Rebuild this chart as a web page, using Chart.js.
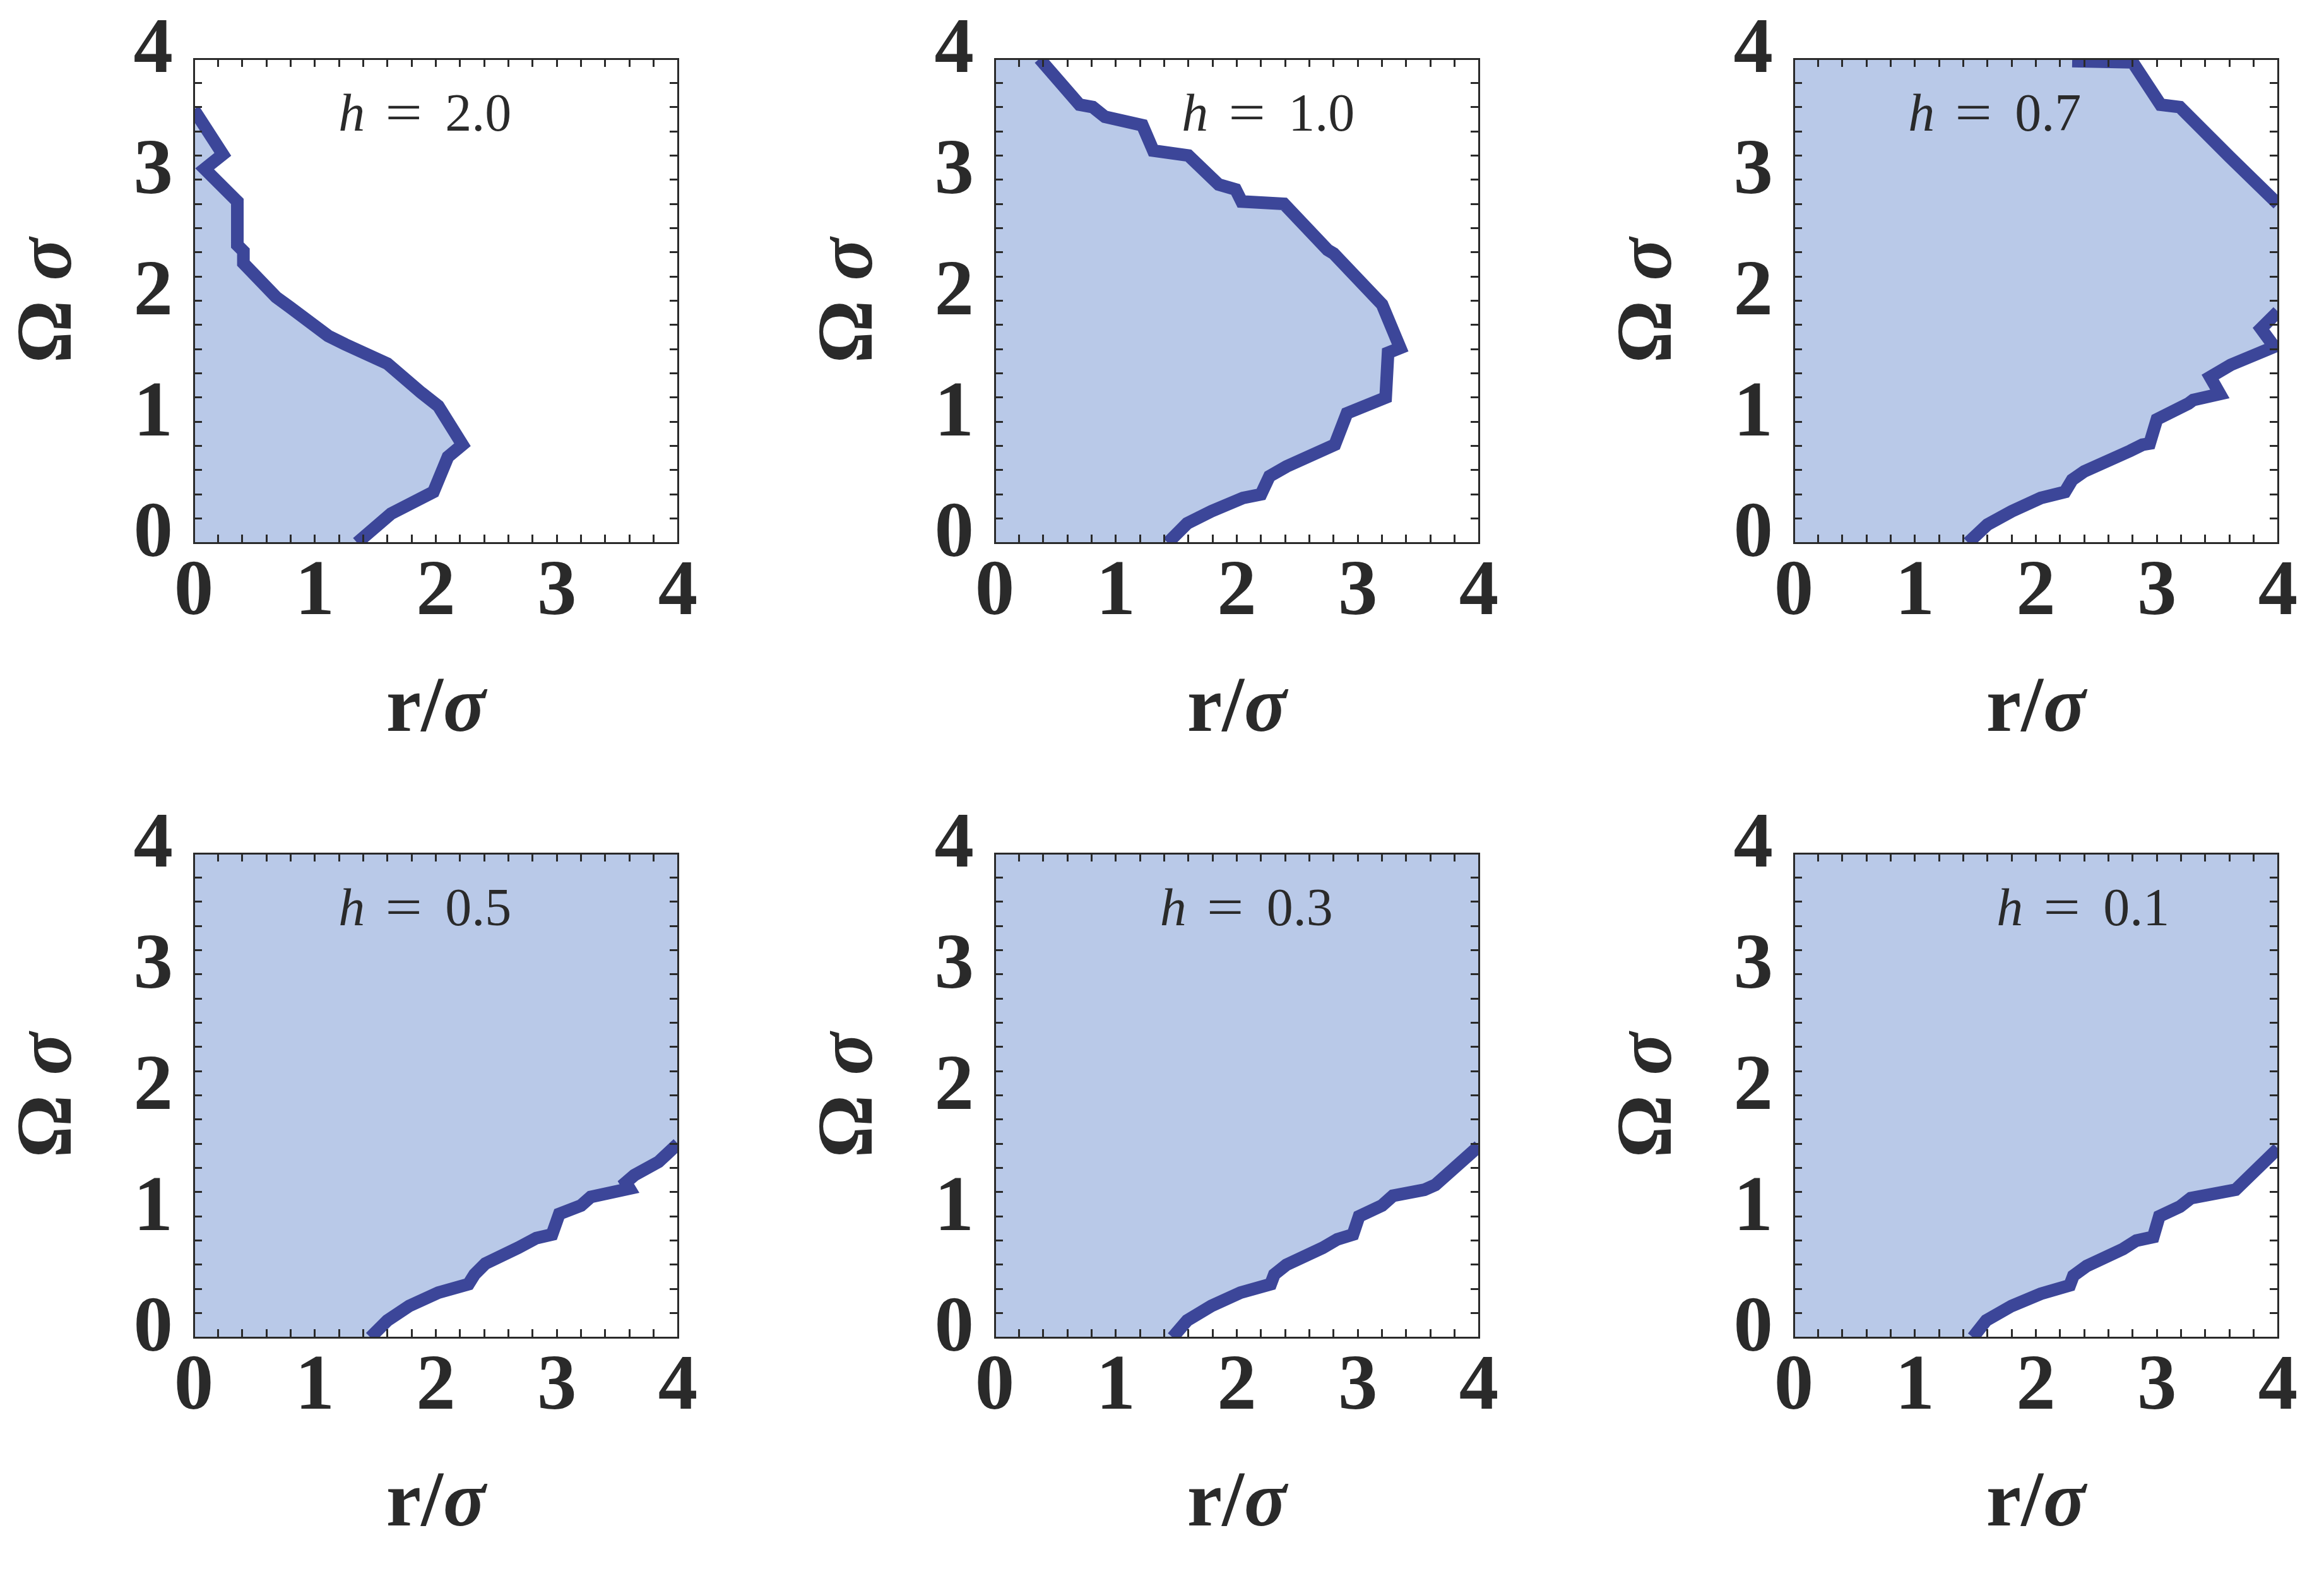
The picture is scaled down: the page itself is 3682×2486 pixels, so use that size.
<!DOCTYPE html>
<html lang="en">
<head>
    <meta charset="UTF-8">
    <title>Omega sigma versus r/sigma for several h</title>
    <script src="https://cdn.jsdelivr.net/npm/chart.js@4"></script>
    <style>
        html, body {
            margin: 0;
            padding: 0;
            background: #fff;
        }
        body {
            width: 3682px;
            height: 2486px;
            position: relative;
            overflow: hidden;
        }
        canvas {
            position: absolute;
        }
    </style>
</head>
<body>
<script>
    // axis ticks (labels only on the integers, minor marks every 0.2)
    const tickLabels = [0, 1, 2, 3, 4];
    const axisMin = tickLabels[0];
    const axisMax = tickLabels[tickLabels.length - 1];
    const minorStep = 0.2;

    const hLabels = ['2.0', '1.0', '0.7', '0.5', '0.3', '0.1'];

    // boundary curves: r/sigma and Omega*sigma
    const r20 = [0.00, 0.24, 0.09, 0.36, 0.36, 0.41, 0.41, 0.68, 0.79, 1.11, 1.25, 1.60, 1.88, 2.02, 2.22, 2.10, 1.98, 1.63, 1.35];
    const w20 = [3.58, 3.21, 3.09, 2.82, 2.46, 2.41, 2.31, 2.03, 1.95, 1.71, 1.64, 1.48, 1.24, 1.13, 0.81, 0.71, 0.42, 0.24, 0.00];

    const r10 = [0.37, 0.70, 0.81, 0.91, 1.22, 1.31, 1.60, 1.85, 1.99, 2.04, 2.39, 2.75, 2.80, 3.20, 3.35, 3.25, 3.23, 2.91, 2.81, 2.41, 2.27, 2.20, 2.05, 1.79, 1.59, 1.43];
    const w10 = [4.00, 3.62, 3.60, 3.52, 3.45, 3.24, 3.20, 2.96, 2.92, 2.82, 2.80, 2.42, 2.39, 1.97, 1.61, 1.57, 1.20, 1.07, 0.81, 0.63, 0.55, 0.40, 0.37, 0.26, 0.16, 0.00];

    const r07u = [2.30, 2.80, 3.03, 3.19, 3.60, 4.00];
    const w07u = [3.98, 3.97, 3.62, 3.60, 3.19, 2.80];
    const r07l = [1.44, 1.60, 1.80, 2.04, 2.24, 2.30, 2.40, 2.78, 2.88, 2.94, 3.00, 3.26, 3.30, 3.52, 3.44, 3.61, 3.97, 3.86, 4.00];
    const w07l = [0.00, 0.15, 0.26, 0.37, 0.42, 0.52, 0.59, 0.76, 0.81, 0.82, 1.02, 1.15, 1.18, 1.23, 1.37, 1.47, 1.62, 1.77, 1.91];

    const r05 = [1.46, 1.60, 1.78, 2.02, 2.27, 2.32, 2.41, 2.68, 2.83, 2.96, 3.02, 3.20, 3.28, 3.60, 3.57, 3.64, 3.84, 4.00];
    const w05 = [0.00, 0.14, 0.26, 0.37, 0.44, 0.52, 0.61, 0.74, 0.82, 0.85, 1.02, 1.09, 1.16, 1.23, 1.28, 1.34, 1.45, 1.60];

    const r03 = [1.47, 1.59, 1.79, 2.03, 2.28, 2.31, 2.41, 2.71, 2.83, 2.96, 3.01, 3.20, 3.29, 3.55, 3.64, 4.00];
    const w03 = [0.00, 0.14, 0.26, 0.37, 0.44, 0.52, 0.60, 0.74, 0.81, 0.85, 1.00, 1.09, 1.17, 1.22, 1.26, 1.58];

    const r01 = [1.48, 1.59, 1.80, 2.04, 2.28, 2.31, 2.42, 2.72, 2.83, 2.97, 3.02, 3.19, 3.28, 3.65, 4.00];
    const w01 = [0.00, 0.14, 0.26, 0.36, 0.43, 0.51, 0.59, 0.73, 0.80, 0.83, 1.00, 1.08, 1.15, 1.22, 1.56];

    function rev(a) { return a.slice().reverse(); }

    // the shaded region is everything left of the boundary, filled toward r = 0
    const panels = [
        { h: hLabels[0], curves: [[r20, w20]], fill: [r20, w20] },
        { h: hLabels[1], curves: [[r10, w10]], fill: [r10, w10] },
        { h: hLabels[2], curves: [[r07u, w07u], [r07l, w07l]],
          fill: [[r07u[0]].concat(r07u, rev(r07l)), [axisMax].concat(w07u, rev(w07l))] },
        { h: hLabels[3], curves: [[r05, w05]], fill: [[axisMax].concat(rev(r05)), [axisMax].concat(rev(w05))] },
        { h: hLabels[4], curves: [[r03, w03]], fill: [[axisMax].concat(rev(r03)), [axisMax].concat(rev(w03))] },
        { h: hLabels[5], curves: [[r01, w01]], fill: [[axisMax].concat(rev(r01)), [axisMax].concat(rev(w01))] }
    ];

    // layout (pixels) and where the h label sits (data coords)
    const plotLeft = [307, 1576, 2842];
    const plotTop = [93, 1352];
    const plotSize = 767;
    const canvasW = 1144, canvasH = 1205;
    const labelAt = [[1.91, 3.405], [2.26, 3.405], [1.66, 3.405], [1.91, 3.405], [2.08, 3.405], [2.39, 3.405]];

    const serif = '"Liberation Serif", "Times New Roman", Times, serif';
    const ink = '#2a2a2a';
    const fillColor = '#b9c9e8';
    const lineColor = '#3c4699';

    function toPoints(rs, ws) {
        return rs.map((r, i) => ({ x: r, y: ws[i] }));
    }

    function majorOnly(v) {
        const n = Math.round(v);
        return Math.abs(v - n) < 1e-6 && tickLabels.includes(n) ? String(n) : '';
    }

    // draws pieces [text, font] one after another, centred on (0, 0)
    function drawRun(ctx, pieces) {
        let total = 0;
        pieces.forEach(p => { ctx.font = p[1]; p.w = ctx.measureText(p[0]).width; total += p.w; });
        let x = -total / 2;
        pieces.forEach(p => { ctx.font = p[1]; ctx.fillText(p[0], x, 0); x += p.w; });
    }

    const hLabelPlugin = {
        id: 'hLabel',
        afterDatasetsDraw(chart, args, opts) {
            const { ctx, scales } = chart;
            const cx = scales.x.getPixelForValue(opts.r);
            const base = scales.y.getPixelForValue(opts.w);
            const italic = 'italic 84px ' + serif;
            const roman = '84px ' + serif;
            ctx.save();
            ctx.fillStyle = ink;
            ctx.textBaseline = 'alphabetic';
            ctx.textAlign = 'left';
            ctx.font = roman;
            const valueW = ctx.measureText(opts.text).width;
            const total = 169 + valueW;
            const left = cx - total / 2;
            ctx.font = italic;
            ctx.fillText('h', left, base);
            ctx.font = roman;
            ctx.save();
            ctx.translate(left + 74, base);
            ctx.scale(1.24, 1);
            ctx.fillText('=', 0, 0);
            ctx.restore();
            ctx.fillText(opts.text, left + 169, base);
            ctx.restore();
        }
    };

    // axis titles with an italic sigma
    const axisTitlePlugin = {
        id: 'axisTitles',
        afterDraw(chart) {
            const { ctx, chartArea } = chart;
            const bold = 'bold 125px ' + serif;
            const boldItalic = 'italic bold 125px ' + serif;
            ctx.save();
            ctx.fillStyle = ink;
            ctx.textBaseline = 'middle';
            ctx.textAlign = 'left';
            ctx.save();
            ctx.translate((chartArea.left + chartArea.right) / 2, chartArea.bottom + 266);
            drawRun(ctx, [['r/', bold], ['σ', boldItalic]]);
            ctx.restore();
            ctx.save();
            ctx.translate(chartArea.left - 227, (chartArea.top + chartArea.bottom) / 2);
            ctx.rotate(-Math.PI / 2);
            drawRun(ctx, [['Ω ', bold], ['σ', boldItalic]]);
            ctx.restore();
            ctx.restore();
        }
    };

    function axis(position, withLabels) {
        const horizontal = position === 'bottom' || position === 'top';
        const cfg = {
            type: 'linear',
            position: position,
            min: axisMin,
            max: axisMax,
            border: { display: true, color: ink, width: 3, z: 1 },
            grid: { drawOnChartArea: false, drawTicks: true, tickLength: -13, tickWidth: 3, tickColor: ink, z: 1 },
            ticks: {
                display: withLabels,
                stepSize: minorStep,
                maxTicksLimit: 50,
                autoSkip: false,
                maxRotation: 0,
                minRotation: 0,
                color: ink,
                padding: horizontal ? 31 : 46,
                font: { family: serif, size: 125, weight: 'bold', lineHeight: 1 },
                callback: majorOnly
            }
        };
        if (withLabels && !horizontal) cfg.ticks.labelOffset = -11;
        cfg.afterFit = function (scale) {
            scale.paddingTop = 0;
            scale.paddingBottom = 0;
            scale.paddingLeft = 0;
            scale.paddingRight = 0;
            if (position === 'left') scale.width = plotLeft[0];
            if (position === 'bottom') scale.height = canvasH - plotTop[0] - plotSize;
            if (position === 'top') scale.height = 0;
            if (position === 'right') scale.width = 0;
        };
        return cfg;
    }

    panels.forEach((p, i) => {
        const col = i % 3, row = Math.floor(i / 3);
        const canvas = document.createElement('canvas');
        canvas.width = canvasW;
        canvas.height = canvasH;
        canvas.style.width = canvasW + 'px';
        canvas.style.height = canvasH + 'px';
        canvas.style.left = (plotLeft[col] - plotLeft[0]) + 'px';
        canvas.style.top = (plotTop[row] - plotTop[0]) + 'px';
        document.body.appendChild(canvas);

        const datasets = [{
            data: toPoints(p.fill[0], p.fill[1]),
            xAxisID: 'x',
            yAxisID: 'y',
            fill: 'origin',
            backgroundColor: fillColor,
            borderWidth: 0,
            pointRadius: 0,
            order: 2
        }];
        p.curves.forEach(c => {
            datasets.push({
                data: toPoints(c[0], c[1]),
                xAxisID: 'x',
                yAxisID: 'y',
                fill: false,
                borderColor: lineColor,
                borderWidth: 20,
                borderJoinStyle: 'miter',
                borderCapStyle: 'butt',
                pointRadius: 0,
                tension: 0,
                order: 1
            });
        });

        new Chart(canvas.getContext('2d'), {
            type: 'line',
            data: { datasets: datasets },
            options: {
                indexAxis: 'y',
                responsive: false,
                animation: false,
                events: [],
                layout: { padding: { left: 0, top: plotTop[0], right: canvasW - plotLeft[0] - plotSize, bottom: 0 } },
                scales: {
                    x: axis('bottom', true),
                    y: axis('left', true),
                    x2: axis('top', false),
                    y2: axis('right', false)
                },
                plugins: {
                    legend: { display: false },
                    tooltip: { enabled: false },
                    hLabel: { text: p.h, r: labelAt[i][0], w: labelAt[i][1] }
                }
            },
            plugins: [hLabelPlugin, axisTitlePlugin]
        });
    });
</script>
</body>
</html>
